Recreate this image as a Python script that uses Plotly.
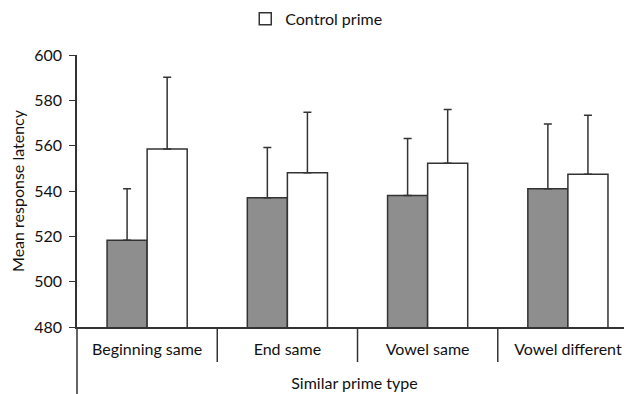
import plotly.graph_objects as go

categories = ["Beginning same", "End same", "Vowel same", "Vowel different"]
similar_vals = [518.3, 537.0, 538.0, 541.0]
similar_err = [22.7, 22.2, 25.2, 28.6]
control_vals = [558.5, 548.0, 552.2, 547.4]
control_err = [31.7, 26.7, 23.8, 26.0]
yticks = [480, 500, 520, 540, 560, 580, 600]

FONT = "Lato"
INK = "#333333"
FS = 16

# page body adds an 8px offset; size the figure to fill the rest of the window
W, H = 624, 386
L, T, B = 69, 47, 67
plot_h = H - T - B

fig = go.Figure()
fig.add_trace(go.Bar(
    x=categories, y=similar_vals, name="Similar prime", showlegend=False,
    marker=dict(color="#8e8e8e", line=dict(color=INK, width=1.5)),
    error_y=dict(type="data", array=similar_err, arrayminus=[0]*len(similar_err),
                 symmetric=False, color=INK, thickness=1.5, width=4),
))
fig.add_trace(go.Bar(
    x=categories, y=control_vals, name="Control prime",
    marker=dict(color="white", line=dict(color=INK, width=1.5)),
    error_y=dict(type="data", array=control_err, arrayminus=[0]*len(control_err),
                 symmetric=False, color=INK, thickness=1.5, width=4),
))

shapes = []
for i in range(len(categories) - 1):
    shapes.append(dict(type="line", xref="x", yref="paper", x0=i + 0.5, x1=i + 0.5,
                       y0=0, y1=-35 / plot_h, line=dict(color=INK, width=1.5)))
shapes.append(dict(type="line", xref="paper", yref="paper", x0=0, x1=0,
                   y0=0, y1=-80 / plot_h, line=dict(color=INK, width=1.5)))

fig.update_layout(
    width=W, height=H,
    margin=dict(l=L, r=0, t=T, b=B, autoexpand=False),
    paper_bgcolor="white", plot_bgcolor="white",
    font=dict(family=FONT, size=FS, color="#111111"),
    barmode="group", bargap=0.4286, bargroupgap=0,
    showlegend=True,
    legend=dict(orientation="h", x=0.494, xref="container", xanchor="center",
                y=0.972, yref="container", yanchor="middle", font=dict(size=FS)),
    xaxis=dict(range=[-0.5, 3.457], showline=True, linecolor=INK, linewidth=1.5,
               ticks="", showgrid=False, tickfont=dict(size=FS), automargin=False,
               ticklabelstandoff=7,
               title=dict(text="Similar prime type", font=dict(size=FS), standoff=21)),
    yaxis=dict(range=[480, 600], tickvals=yticks, showline=True, linecolor=INK,
               linewidth=1.5, ticks="outside", ticklen=6, tickcolor=INK, showgrid=False,
               zeroline=False, tickfont=dict(size=FS), automargin=False,
               ticklabelstandoff=4,
               title=dict(text="Mean response latency", font=dict(size=FS), standoff=12)),
    shapes=shapes,
)

fig.write_html("out.html")
